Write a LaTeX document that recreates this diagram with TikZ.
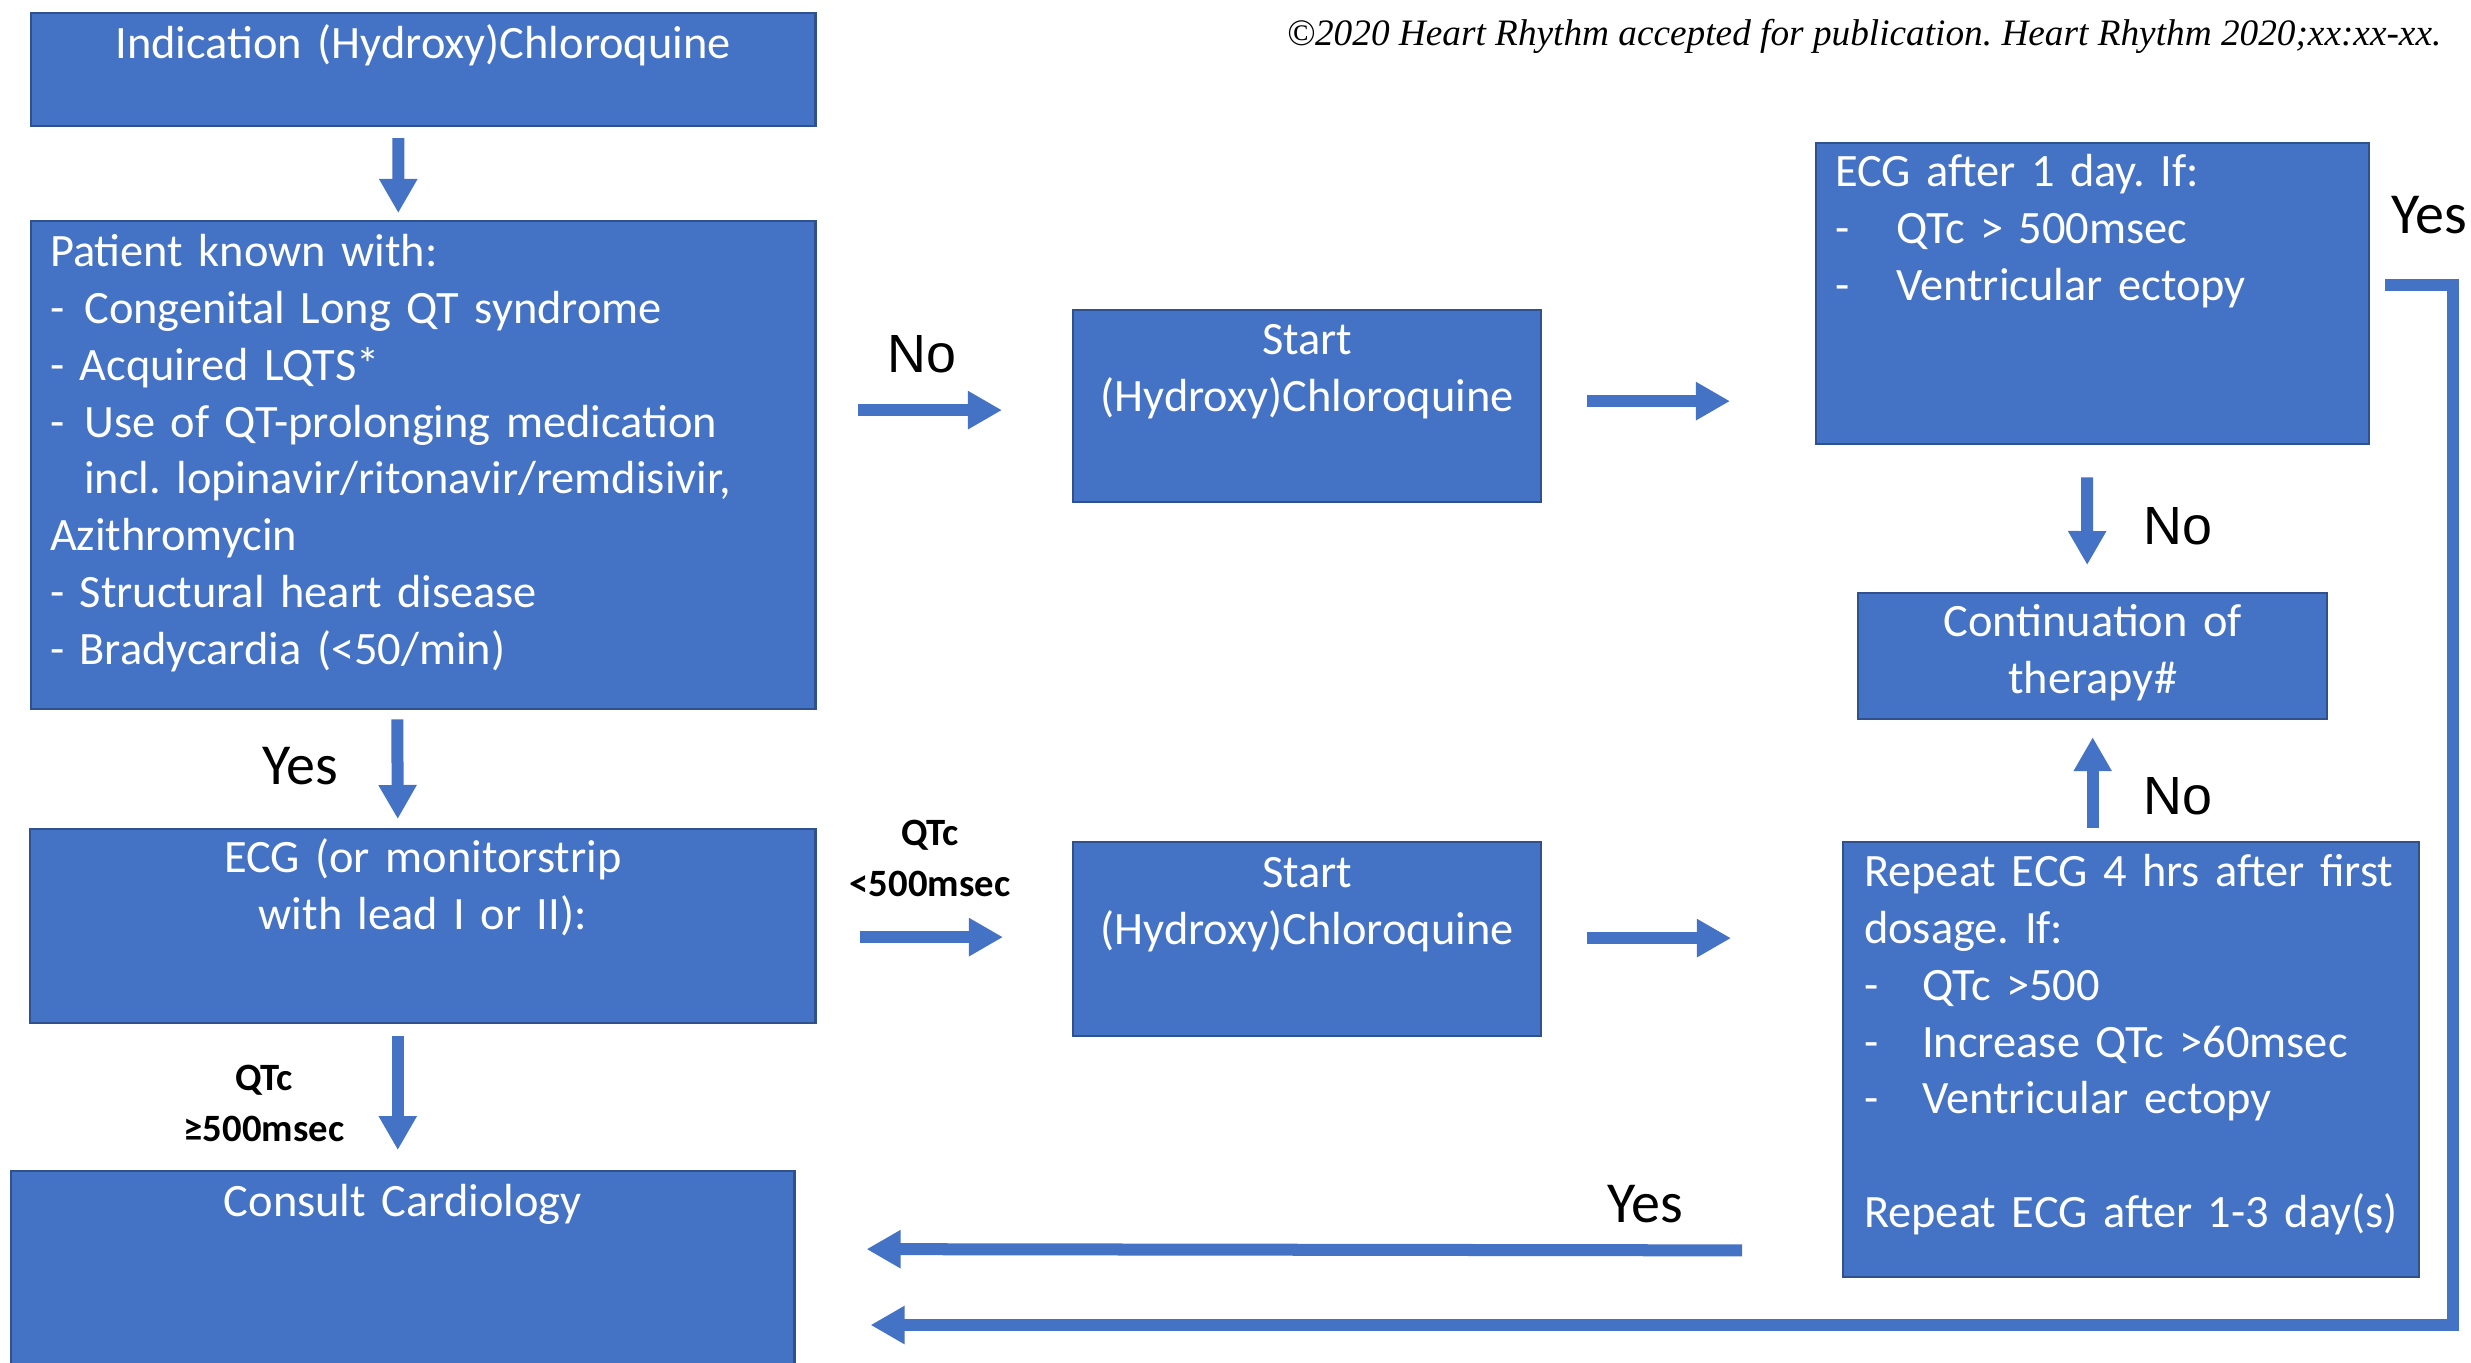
\documentclass[tikz,border=0pt]{standalone}
\usepackage{fontspec}
\setmainfont{Carlito}
\newfontfamily\nofont{Liberation Sans}
\newfontfamily\notefont{Liberation Serif}
\usetikzlibrary{arrows.meta,calc}
\frenchspacing

\definecolor{boxblue}{HTML}{4472C4}
\definecolor{boxline}{HTML}{2F528F}

\begin{document}
\begin{tikzpicture}[
  x=0.01cm, y=-0.01cm,
  box/.style={draw=boxline, line width=0.6pt, fill=boxblue, text=white, anchor=north west,
    inner ysep=0pt, font=\fontsize{13.2}{16.2}\selectfont},
  centred/.style={box, align=center, inner xsep=0.1cm},
  listbox/.style={box, align=left},
  arrow/.style={-{Triangle[width=0.36cm, length=0.34cm]}, line width=0.12cm, draw=boxblue},
  yes/.style={anchor=base, inner sep=0pt, font=\fontsize{16.5}{19}\selectfont},
  no/.style={anchor=base, inner sep=0pt, font=\nofont\fontsize{15.3}{18}\selectfont},
  qtc/.style={anchor=base, inner sep=0pt, align=center, font=\bfseries\fontsize{11}{14.5}\selectfont},
]
  \useasboundingbox (0,0) rectangle (2471,1362);
  \clip (0,0) rectangle (2471,1362);

  % left column
  \node[centred, text width=7.64cm, text height=0.45cm, text depth=0.68cm] (ind) at (30,12)
    {Indication (Hydroxy)Chloroquine};
  \node[listbox, inner xsep=0.19cm, text width=7.46cm, text height=0.45cm, text depth=4.43cm] (pat) at (30,220)
    {Patient known with:\\
     -\hspace*{0.2cm}Congenital Long QT syndrome\\
     - Acquired LQTS*\\
     -\hspace*{0.2cm}Use of QT-prolonging medication\\
     \hspace*{0.34cm}incl. lopinavir/ritonavir/remdisivir,\\
     Azithromycin\\
     - Structural heart disease\\
     - Bradycardia (<50/min)};
  \node[centred, text width=7.65cm, text height=0.43cm, text depth=1.51cm] (ecg) at (29,828)
    {ECG (or monitorstrip\\with lead I or II):};
  \node[centred, text width=7.63cm, text height=0.45cm, text depth=1.55cm] (cons) at (10,1170)
    {Consult Cardiology};

  % middle column
  \node[centred, text width=4.48cm, text height=0.44cm, text depth=1.48cm] (start1) at (1072,309)
    {Start\\(Hydroxy)Chloroquine};
  \node[centred, text width=4.48cm, text height=0.45cm, text depth=1.49cm] (start2) at (1072,841)
    {Start\\(Hydroxy)Chloroquine};

  % right column
  \node[listbox, inner xsep=0.19cm, text width=5.15cm, text height=0.43cm, text depth=2.58cm] (ecg1) at (1815,142)
    {ECG after 1 day. If:\\
     -\hspace*{0.47cm}QTc > 500msec\\
     -\hspace*{0.47cm}Ventricular ectopy};
  \node[centred, text width=4.49cm, text height=0.43cm, text depth=0.83cm] (cont) at (1857,592)
    {Continuation of\\therapy\#};
  \node[listbox, inner xsep=0.21cm, text width=5.34cm, text height=0.44cm, text depth=3.91cm] (rep) at (1842,841)
    {Repeat ECG 4 hrs after first\\
     dosage. If:\\
     -\hspace*{0.44cm}QTc >500\\
     -\hspace*{0.44cm}Increase QTc >60msec\\
     -\hspace*{0.44cm}Ventricular ectopy\\
     ~\\
     \mbox{Repeat ECG after 1-3 day(s)}};

  \coordinate (loopc) at (2453,1325);

  % arrows
  \draw[arrow] ($(ind.south)+(-25,11)$) -- ($(pat.north)+(-25,-7)$);
  \draw[arrow] ($(pat.south)+(-26,9)$) -- ($(ecg.north)+(-25,-9)$);
  \draw[arrow] ($(ecg.south)+(-25,12)$) -- ($(cons.north)+(-5,-20)$);
  \draw[arrow] ($(pat.east |- start1.west)+(41,4)$) -- ($(start1.west)+(-70,4)$);
  \draw[arrow] ($(start1.east)+(45,-5)$) -- ($(start1.east -| ecg1.west)+(-85,-5)$);
  \draw[arrow] ($(ecg.east |- start2.west)+(43,-2)$) -- ($(start2.west)+(-69,-2)$);
  \draw[arrow] ($(start2.east)+(45,-1)$) -- ($(start2.east -| rep.west)+(-111,-1)$);
  \draw[arrow] ($(ecg1.south)+(-5.5,32)$) -- ($(cont.north)+(-5.5,-27)$);
  \draw[arrow] ($(cont.south |- rep.north)+(0,-13)$) -- ($(cont.south)+(0,17)$);
  \draw[arrow] ($(rep.south west)+(-100,-28)$) -- ($(cons.east)+(71,-22)$);
  \draw[arrow, line join=miter] ($(ecg1.east)+(15,-8.5)$) -| (loopc) -- ($(cons.east |- loopc)+(75,0)$);

  % labels
  \node[yes] (yes-pat) at (300,784) {Yes};
  \node[qtc] (qtc-high) at (264,1141) {QTc\\≥500msec};
  \node[no] (no-pat) at (922,372) {No};
  \node[qtc] (qtc-low) at (930,896) {QTc\\<500msec};
  \node[no] (no-ecg1) at (2178,544) {No};
  \node[no] (no-rep) at (2178,814) {No};
  \node[yes] (yes-rep) at (1645,1222) {Yes};
  \node[yes] (yes-ecg1) at (2429,233) {Yes};

  \node[anchor=base east, inner sep=0pt, font=\notefont\itshape\fontsize{10.6}{13}\selectfont] (notice) at (2442,45)
    {©2020 Heart Rhythm accepted for publication. Heart Rhythm 2020;xx:xx-xx.};
\end{tikzpicture}
\end{document}
